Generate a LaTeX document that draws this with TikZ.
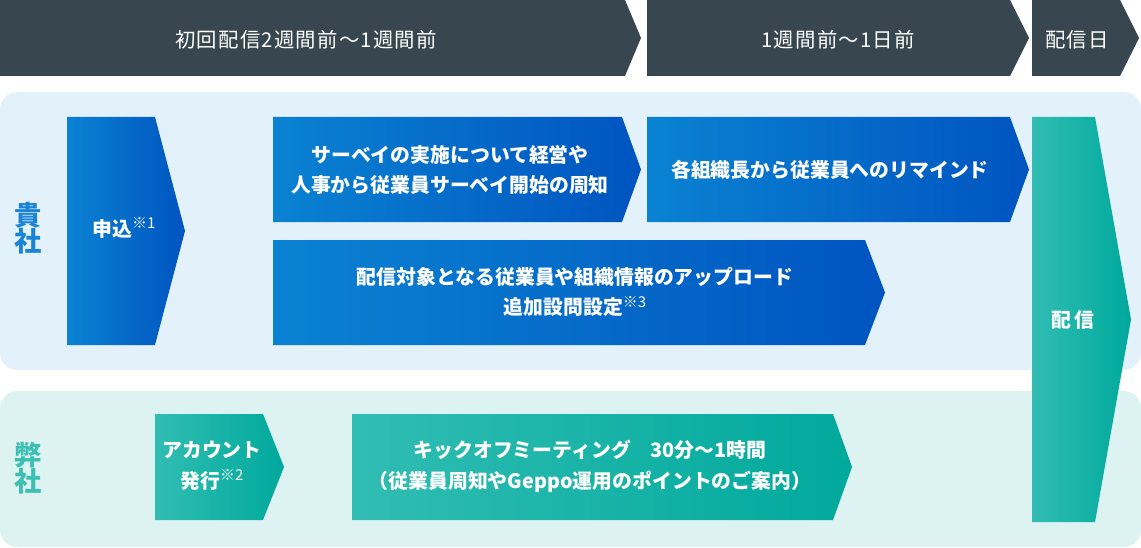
\documentclass[tikz,border=0pt]{standalone}
\usepackage{fontspec}
\setmainfont{Noto Sans CJK JP}
\newfontfamily\hdrfont[LetterSpace=6]{Noto Sans CJK JP}
\definecolor{hdrgray}{HTML}{37464F}
\definecolor{panelblue}{HTML}{E3F1FB}
\definecolor{panelgreen}{HTML}{DCF3F1}
\definecolor{blueL}{HTML}{0A82D2}
\definecolor{blueR}{HTML}{0054C0}
\definecolor{tealL}{HTML}{31BDB3}
\definecolor{tealR}{HTML}{00A99C}
\definecolor{lblblue}{HTML}{1A85D6}
\definecolor{lblteal}{HTML}{3DBFB3}
% chevron: style, left x, top y, body end x, tip x, bottom y
\newcommand\chevron[6]{\path[#1] (#2,#3) -- (#4,#3) -- (#5,{(#3+#6)/2}) -- (#4,#6) -- (#2,#6) -- cycle;}
\newcommand\note[1]{\raisebox{0.4em}{\mdseries\fontsize{8.5}{9}\selectfont ※#1}}
\begin{document}
\begin{tikzpicture}[x=0.02cm,y=-0.02cm,
    hdr/.style={fill=hdrgray},
    bluebox/.style={left color=blueL,right color=blueR},
    tealbox/.style={left color=tealL,right color=tealR},
    hdrtxt/.style={text=white,font=\hdrfont\fontsize{11.6}{15}\selectfont},
    txt/.style={text=white,font=\bfseries\fontsize{11.3}{17.5}\selectfont,align=center},
    side/.style={font=\bfseries\fontsize{15.5}{17}\selectfont,align=center}]
    \useasboundingbox (0,0) rectangle (1141,547);
    % header
    \chevron{hdr}{0}{0}{625}{641}{76}
    \chevron{hdr}{647}{0}{1010}{1029}{76}
    \chevron{hdr}{1032}{0}{1120}{1139}{76}
    \node[hdrtxt] (h1) at (306,40) {初回配信2週間前～1週間前};
    \node[hdrtxt] (h2) at (838,40) {1週間前～1日前};
    \node[hdrtxt] (h3) at (1077,40) {配信日};
    % panels
    \fill[panelblue,rounded corners=10] (0,92) rectangle (1141,370);
    \fill[panelgreen,rounded corners=10] (0,391) rectangle (1141,547);
    \node[side,text=lblblue] (kisha) at (28,228) {貴\\[-2pt]社};
    \node[side,text=lblteal] (heisha) at (28,468) {弊\\[-2pt]社};
    % client side
    \chevron{bluebox}{67}{117}{155}{185}{345}
    \node[txt] (moushikomi) at (124,228) {申込\note{1}};
    \chevron{bluebox}{273}{117}{622}{641}{222}
    \node[txt] (shuuchi) at (450,170) {サーベイの実施について経営や\\人事から従業員サーベイ開始の周知};
    \chevron{bluebox}{647}{117}{1010}{1029}{222}
    \node[txt] (remind) at (830,170) {各組織長から従業員へのリマインド};
    \chevron{bluebox}{273}{240}{865}{885}{345}
    \node[txt] (upload) at (575,292) {配信対象となる従業員や組織情報のアップロード\\追加設問設定\note{3}};
    % delivery
    \chevron{tealbox}{1032}{117}{1095}{1131}{522}
    \node[txt] (haishin) at (1073,320) {配\hspace{2pt}信};
    % our side
    \chevron{tealbox}{155}{414}{263}{284}{520}
    \node[txt] (account) at (212,466) {アカウント\\発行\note{2}};
    \chevron{tealbox}{352}{414}{833}{852}{520}
    \node[txt] (kickoff) at (590,466) {キックオフミーティング　30分～1時間\\（従業員周知やGeppo運用のポイントのご案内）};
\end{tikzpicture}
\end{document}
